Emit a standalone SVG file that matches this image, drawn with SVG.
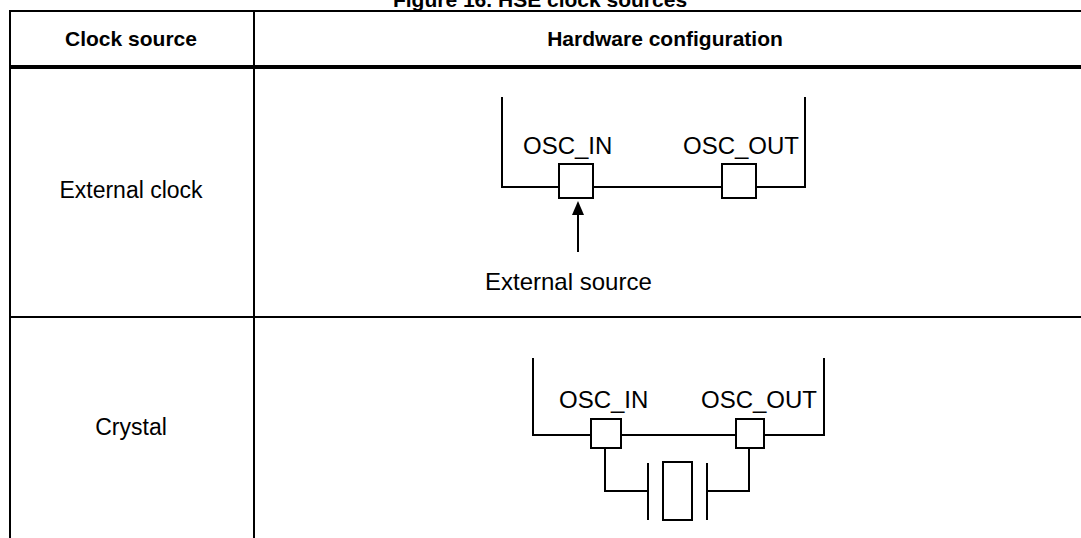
<svg xmlns="http://www.w3.org/2000/svg" width="1081" height="538" viewBox="0 0 1081 538">
<style>
text{font-family:"Liberation Sans",Arial,sans-serif;fill:#000}
.h{font-weight:bold;font-size:21px}
.c{font-size:23px}
.o{font-size:24px}
.t{stroke:#000;stroke-width:2;fill:none}
.w{stroke:#000;stroke-width:2;fill:#fff}
</style>
<rect width="1081" height="538" fill="#fff"/>
<text class="h" x="540" y="7" text-anchor="middle">Figure 16. HSE clock sources</text>
<g id="table">
<line class="t" x1="10" y1="11" x2="1081" y2="11"/>
<line x1="10" y1="67" x2="1081" y2="67" stroke="#000" stroke-width="4"/>
<line class="t" x1="10" y1="317" x2="1081" y2="317"/>
<line class="t" x1="10" y1="10" x2="10" y2="538"/>
<line class="t" x1="254" y1="10" x2="254" y2="538"/>
<text class="h" x="131" y="46" text-anchor="middle">Clock source</text>
<text class="h" x="665" y="46" text-anchor="middle">Hardware configuration</text>
<text class="c" x="131" y="198" text-anchor="middle">External clock</text>
<text class="c" x="131" y="435" text-anchor="middle">Crystal</text>
</g>
<g id="external">
<polyline class="t" points="502,97 502,187 805,187 805,97"/>
<rect class="w" x="559" y="164" width="34" height="34"/>
<rect class="w" x="722" y="164" width="34" height="34"/>
<text class="o" x="523" y="154">OSC_IN</text>
<text class="o" x="683" y="154">OSC_OUT</text>
<line class="t" x1="578" y1="252" x2="578" y2="214"/>
<polygon points="578,201 572,215 584,215" fill="#000"/>
<text class="o" x="485" y="290">External source</text>
</g>
<g id="crystal">
<polyline class="t" points="533,358 533,435 824,435 824,358"/>
<rect class="w" x="591" y="419" width="30" height="29"/>
<rect class="w" x="736" y="419" width="28" height="29"/>
<text class="o" x="559" y="408">OSC_IN</text>
<text class="o" x="701" y="408">OSC_OUT</text>
<polyline class="t" points="605,448 605,491 648,491"/>
<polyline class="t" points="749,448 749,491 707,491"/>
<line class="t" x1="648" y1="463" x2="648" y2="520"/>
<line class="t" x1="707" y1="463" x2="707" y2="520"/>
<rect class="t" x="663" y="462" width="29" height="58"/>
</g>
</svg>
